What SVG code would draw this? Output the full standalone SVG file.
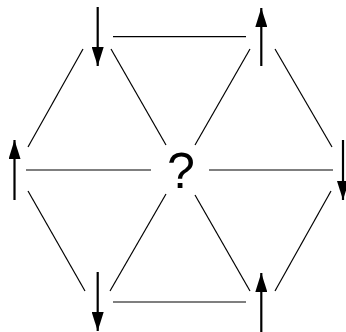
<svg xmlns="http://www.w3.org/2000/svg" width="346" height="332" viewBox="0 0 346 332">
<style>
.edge{stroke:#000;stroke-width:1.2;fill:none}
.arr{stroke:#000;stroke-width:2.2;fill:none;marker-end:url(#head)}
.q{font-family:"Liberation Sans",Arial,sans-serif;font-size:50px;fill:#000;text-anchor:middle}
</style>
<defs>
<marker id="head" viewBox="0 0 19 12" refX="19" refY="6" markerWidth="19" markerHeight="12" markerUnits="userSpaceOnUse" orient="auto">
<path d="M0,0 L19,6 L0,12 z" fill="#000"/>
</marker>
</defs>
<rect width="346" height="332" fill="#fff"/>
<g id="connectors">
<line class="edge" x1="113" y1="36.7" x2="246" y2="36.7"/>
<line class="edge" x1="113" y1="302" x2="246" y2="302"/>
<line class="edge" x1="26" y1="170" x2="151" y2="170"/>
<line class="edge" x1="209" y1="170" x2="333" y2="170"/>
<line class="edge" x1="83" y1="49" x2="28" y2="147"/>
<line class="edge" x1="111" y1="49" x2="166" y2="145"/>
<line class="edge" x1="250" y1="49" x2="195" y2="145"/>
<line class="edge" x1="275" y1="49" x2="332" y2="147"/>
<line class="edge" x1="28" y1="191" x2="85" y2="291"/>
<line class="edge" x1="166" y1="194" x2="110" y2="291"/>
<line class="edge" x1="195" y1="195" x2="250" y2="291"/>
<line class="edge" x1="331" y1="191" x2="275" y2="291"/>
</g>
<g id="node-tl"><line class="arr" x1="97.7" y1="7" x2="97.7" y2="66"/></g>
<g id="node-tr"><line class="arr" x1="261.3" y1="66" x2="261.3" y2="8"/></g>
<g id="node-l"><line class="arr" x1="14.5" y1="200" x2="14.5" y2="140"/></g>
<g id="node-r"><line class="arr" x1="343" y1="140" x2="343" y2="200"/></g>
<g id="node-bl"><line class="arr" x1="97.7" y1="272" x2="97.7" y2="331"/></g>
<g id="node-br"><line class="arr" x1="261.3" y1="332" x2="261.3" y2="273"/></g>
<g id="node-center"><text class="q" x="181" y="188">?</text></g>
</svg>
